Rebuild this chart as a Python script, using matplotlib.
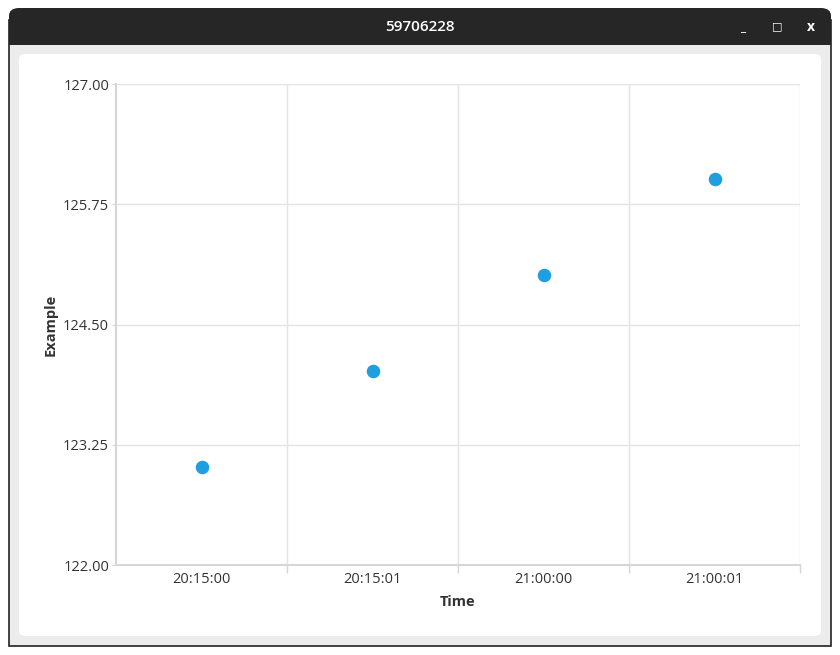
import matplotlib.pyplot as plt
from matplotlib.patches import FancyBboxPatch, Rectangle

# Data
times = ['20:15:00', '20:15:01', '21:00:00', '21:00:01']
values = [123.02, 124.02, 125.01, 126.01]
y_ticks = [122.00, 123.25, 124.50, 125.75, 127.00]

plt.rcParams['font.family'] = ['Open Sans', 'DejaVu Sans']

W, H = 840, 655
fig = plt.figure(figsize=(W / 100, H / 100), dpi=100)
fig.patch.set_facecolor('white')

def fx(px):
    return px / W

def fy(py):
    return 1 - py / H

# window frame
fig.patches.append(Rectangle((fx(9), fy(646)), fx(822), (646 - 20) / H,
                             transform=fig.transFigure, facecolor='#ececec',
                             edgecolor='#222222', linewidth=1.2, zorder=-3))
fig.patches.append(FancyBboxPatch((fx(9), fy(45)), fx(822), 37 / H,
                                  boxstyle='round,pad=0,rounding_size=0.012',
                                  transform=fig.transFigure, facecolor='#262626',
                                  edgecolor='none', zorder=-2))
fig.patches.append(Rectangle((fx(9), fy(45)), fx(822), 10 / H,
                             transform=fig.transFigure, facecolor='#262626',
                             edgecolor='none', zorder=-2))
fig.text(fx(420), fy(27), '59706228', color='white', fontsize=11,
         ha='center', va='center', fontweight='semibold')
fig.text(fx(743), fy(28), '_', color='white', fontsize=9, ha='center',
         va='center', fontweight='bold')
fig.text(fx(777), fy(27), '□', color='white', fontsize=8, ha='center',
         va='center', fontweight='bold')
fig.text(fx(811), fy(27), 'x', color='white', fontsize=10, ha='center',
         va='center', fontweight='bold')

# white content panel
fig.patches.append(FancyBboxPatch((fx(19), fy(636)), fx(802), (636 - 54) / H,
                                  boxstyle='round,pad=0,rounding_size=0.008',
                                  transform=fig.transFigure, facecolor='white',
                                  edgecolor='none', zorder=-1))

ax = fig.add_axes([fx(116), fy(565), fx(800 - 116), (565 - 84) / H])
ax.set_zorder(1)
ax.set_facecolor('white')

x = list(range(len(times)))
ax.scatter(x, values, s=95, color='#1f9fdf', zorder=3, linewidths=0)

ax.set_xlim(-0.5, len(times) - 0.5)
ax.set_ylim(122, 127)
ax.set_yticks(y_ticks)
ax.set_yticklabels([f'{v:.2f}' for v in y_ticks])
ax.set_xticks(x)
ax.set_xticklabels(times)
ax.set_xticks([i + 0.5 for i in range(len(times))], minor=True)

ax.grid(True, axis='y', color='#e4e4e4', linewidth=1)
ax.grid(True, axis='x', which='minor', color='#e4e4e4', linewidth=1)
ax.set_axisbelow(True)

ax.tick_params(axis='x', which='major', length=0, pad=5, labelsize=10.5,
               labelcolor='#333333')
ax.tick_params(axis='x', which='minor', length=6, color='#d6d6d6', width=1)
ax.tick_params(axis='y', length=3, color='#d6d6d6', pad=2, labelsize=10.5,
               labelcolor='#333333')

for side in ['top', 'right']:
    ax.spines[side].set_visible(False)
ax.spines['left'].set_color('#d6d6d6')
ax.spines['bottom'].set_color('#d6d6d6')
ax.spines['bottom'].set_linewidth(1.5)
ax.spines['left'].set_linewidth(1.5)

ax.set_xlabel('Time', fontsize=10.5, fontweight='bold', color='#333333',
              labelpad=6)
ax.set_ylabel('Example', fontsize=10.5, fontweight='bold', color='#333333',
              labelpad=4)

fig.savefig('out.png', dpi=100)
